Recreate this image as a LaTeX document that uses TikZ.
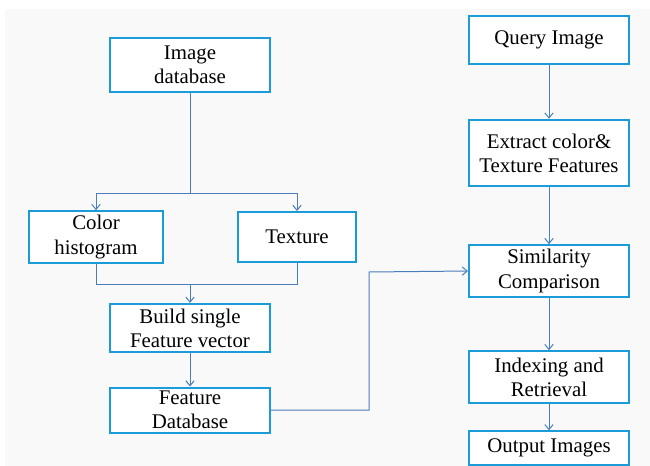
\documentclass[tikz,border=0pt]{standalone}
\usepackage{fontspec}
\setmainfont{Liberation Serif}
\usetikzlibrary{arrows.meta}
\definecolor{boxblue}{HTML}{1B9BD7}
\definecolor{linkblue}{HTML}{4A7EBB}
\tikzset{
  stage/.style={draw=boxblue, line width=1.2pt, fill=white, align=center,
    inner sep=1pt, font=\rmfamily\fontsize{12.5}{14.5}\selectfont},
  link/.style={draw=linkblue, line width=0.6pt},
  flow/.style={link, -{Straight Barb[length=3pt,width=5pt]}}
}
\begin{document}
\begin{tikzpicture}[x=0.6pt,y=-0.6pt]
    \useasboundingbox (0,0) rectangle (650,466);
    \fill[gray!5] (5,9) rectangle (650,466); %Background
    % left column
    \node[stage, minimum width=96pt, minimum height=32pt] (imgdb) at (190,65) {Image\\database};
    \node[stage, minimum width=80pt, minimum height=31pt] (colhist) at (96,237) {Color\\histogram};
    \node[stage, minimum width=71pt, minimum height=30pt] (texture) at (297,237) {Texture};
    \node[stage, minimum width=96pt, minimum height=29pt] (build) at (190,328) {Build single\\Feature vector};
    \node[stage, minimum width=96pt, minimum height=27pt] (featdb) at (190,410) {Feature\\Database};
    % right column
    \node[stage, minimum width=96pt, minimum height=29pt] (query) at (549,40) {Query Image};
    \node[stage, minimum width=96pt, minimum height=40pt] (extract) at (549,153) {Extract color\&\\Texture Features};
    \node[stage, minimum width=96pt, minimum height=31pt] (simil) at (549,271) {Similarity\\Comparison};
    \node[stage, minimum width=96pt, minimum height=31pt] (index) at (549,377) {Indexing and\\Retrieval};
    \node[stage, minimum width=96pt, minimum height=20pt] (output) at (549,448) {Output Images};
    % connectors
    \coordinate (split) at (190,193);
    \coordinate (join) at (190,284);
    \draw[link] (imgdb.south) -- (split);
    \draw[flow] (split) -| (colhist.north);
    \draw[flow] (split) -| (texture.north);
    \draw[link] (colhist.south) |- (join);
    \draw[link] (texture.south) |- (join);
    \draw[flow] (join) -- (build.north);
    \draw[flow] (build) -- (featdb);
    \draw[flow] (featdb.east) -| (369,272) -- (simil.west);
    \draw[flow] (query) -- (extract);
    \draw[flow] (extract) -- (simil);
    \draw[flow] (simil) -- (index);
    \draw[flow] (index) -- (output);
  \end{tikzpicture}
\end{document}
